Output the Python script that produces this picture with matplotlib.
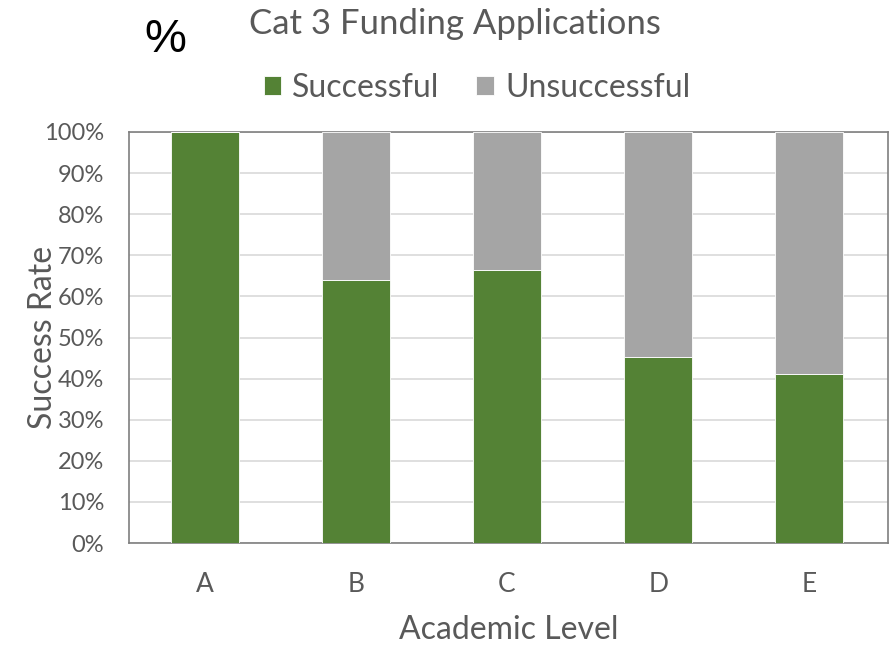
import matplotlib
matplotlib.use("Agg")
import matplotlib.pyplot as plt
from matplotlib.ticker import PercentFormatter

categories = ["A", "B", "C", "D", "E"]
successful = [100.0, 64.0, 66.5, 45.3, 41.2]
unsuccessful = [100 - s for s in successful]
yticks = list(range(0, 101, 10))

GREEN = "#548235"
GREY = "#A5A5A5"
TXT = "#595959"

plt.rcParams['font.family'] = ['Lato', 'DejaVu Sans']

fig = plt.figure(figsize=(8.91, 6.45), dpi=100)
ax = fig.add_axes([129/891, 1-543/645, (888-129)/891, (543-132)/645])

x = list(range(len(categories)))
ax.bar(x, successful, width=0.45, color=GREEN, edgecolor="white", linewidth=0.6, label="Successful", zorder=3)
ax.bar(x, unsuccessful, width=0.45, bottom=successful, color=GREY, edgecolor="white", linewidth=0.6, label="Unsuccessful", zorder=3)

ax.set_xlim(-0.5, 4.52)
ax.set_ylim(0, 100)
ax.set_yticks(yticks)
ax.yaxis.set_major_formatter(PercentFormatter(decimals=0))
ax.set_xticks(x)
ax.set_xticklabels(categories)
ax.grid(axis="y", color="#D9D9D9", linewidth=1.2, zorder=0)
ax.set_axisbelow(True)
for s in ax.spines.values():
    s.set_color("#7F7F7F")
    s.set_linewidth(1.2)
ax.tick_params(axis="both", length=0, colors=TXT)
ax.tick_params(axis="y", pad=18, labelsize=17)
ax.tick_params(axis="x", pad=21, labelsize=19)

ax.set_xlabel("Academic Level", fontsize=23, color=TXT, labelpad=13)
ax.set_ylabel("Success Rate", fontsize=23, color=TXT, labelpad=-10)

fig.text(455/891, 1-24/645, "Cat 3 Funding Applications", ha="center", va="center", fontsize=25, color=TXT)
fig.text(165/891, 1-40/645, "%", ha="center", va="center", fontsize=34, color="black",
         family=["Liberation Sans", "DejaVu Sans"])

fig.legend(loc="center", bbox_to_anchor=(477/891, 1-88/645), ncol=2, frameon=False,
           fontsize=23, handlelength=0.55, handleheight=0.55, handletextpad=0.35,
           columnspacing=1.15, labelcolor=TXT)

fig.savefig("out.png", dpi=100)
